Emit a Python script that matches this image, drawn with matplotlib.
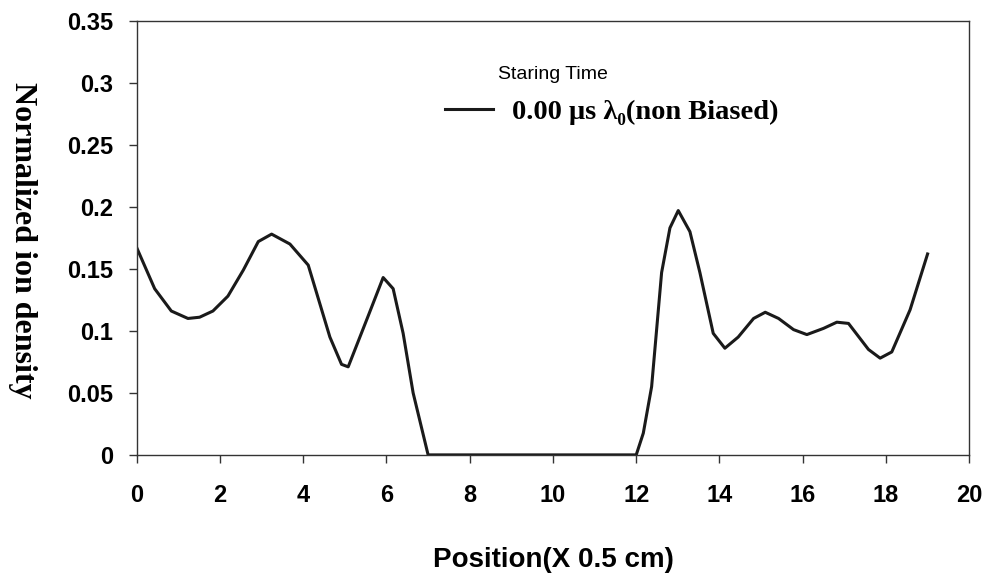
import numpy as np
import matplotlib
matplotlib.use('Agg')
import matplotlib.pyplot as plt

# ion density profile along the chamber (position in units of 0.5 cm)
position = [0.0, 0.43, 0.83, 1.23, 1.51, 1.83, 2.19, 2.56, 2.92, 3.24, 3.68, 4.12,
            4.64, 4.92, 5.08, 5.56, 5.92, 6.16, 6.40, 6.64, 7.0,
            8.0, 9.0, 10.0, 11.13, 12.0,
            12.17, 12.37, 12.61, 12.81, 13.01, 13.29, 13.53, 13.85, 14.13, 14.45,
            14.82, 15.10, 15.42, 15.78, 16.10, 16.50, 16.82, 17.10, 17.58, 17.86,
            18.14, 18.58, 19.0]
density = [0.167, 0.134, 0.116, 0.110, 0.111, 0.116, 0.128, 0.149, 0.172, 0.178, 0.170, 0.153,
           0.095, 0.073, 0.071, 0.112, 0.143, 0.134, 0.098, 0.050, 0.0,
           0.0, 0.0, 0.0, 0.0, 0.0,
           0.0175, 0.055, 0.147, 0.183, 0.197, 0.180, 0.147, 0.098, 0.086, 0.095,
           0.110, 0.115, 0.110, 0.101, 0.097, 0.102, 0.107, 0.106, 0.085, 0.078,
           0.083, 0.117, 0.162]

x_ticks = [0, 2, 4, 6, 8, 10, 12, 14, 16, 18, 20]
y_ticks = [0, 0.05, 0.1, 0.15, 0.2, 0.25, 0.3, 0.35]
y_tick_labels = ['0', '0.05', '0.1', '0.15', '0.2', '0.25', '0.3', '0.35']

fig = plt.figure(figsize=(9.91, 5.78), dpi=100)
ax = fig.add_axes([0.138, 0.213, 0.840, 0.751])

line, = ax.plot(position, density, color='#1a1a1a', lw=2.2, solid_joinstyle='round',
                label='0.00 \u03bcs \u03bb\u2080(non Biased)')

ax.set_xlim(0, 20)
ax.set_ylim(0, 0.35)
ax.set_xticks(x_ticks)
ax.set_yticks(y_ticks)
ax.set_yticklabels(y_tick_labels)
for lab in ax.get_xticklabels() + ax.get_yticklabels():
    lab.set_fontfamily('Liberation Sans')
    lab.set_fontweight('bold')
    lab.set_fontsize(17)
ax.tick_params(direction='out', length=6, width=1, color='#333333')
ax.tick_params(axis='x', pad=15)
ax.tick_params(axis='y', pad=11)
for s in ax.spines.values():
    s.set_color('#333333')
    s.set_linewidth(1.0)

fig.text(553 / 991, 1 - 560 / 578, 'Position(X 0.5 cm)', fontfamily='Liberation Sans',
         fontweight='bold', fontsize=20, ha='center', va='center')
fig.text(22 / 991, 1 - 240 / 578, 'Normalized ion density', fontfamily='Liberation Serif',
         fontweight='bold', fontsize=23, rotation=270, ha='center', va='center')

ax.text(0.434, 0.876, 'Staring Time', transform=ax.transAxes, fontfamily='Liberation Sans',
        fontsize=14, ha='left', va='center')
leg = ax.legend(handles=[line], loc='center left', bbox_to_anchor=(0.370, 0.790),
                frameon=False, borderpad=0, borderaxespad=0, handlelength=1.7,
                handletextpad=0.65,
                prop={'family': ['Liberation Serif', 'DejaVu Serif'], 'weight': 'bold', 'size': 20.5})

fig.savefig('out.png', dpi=100, facecolor='white')
